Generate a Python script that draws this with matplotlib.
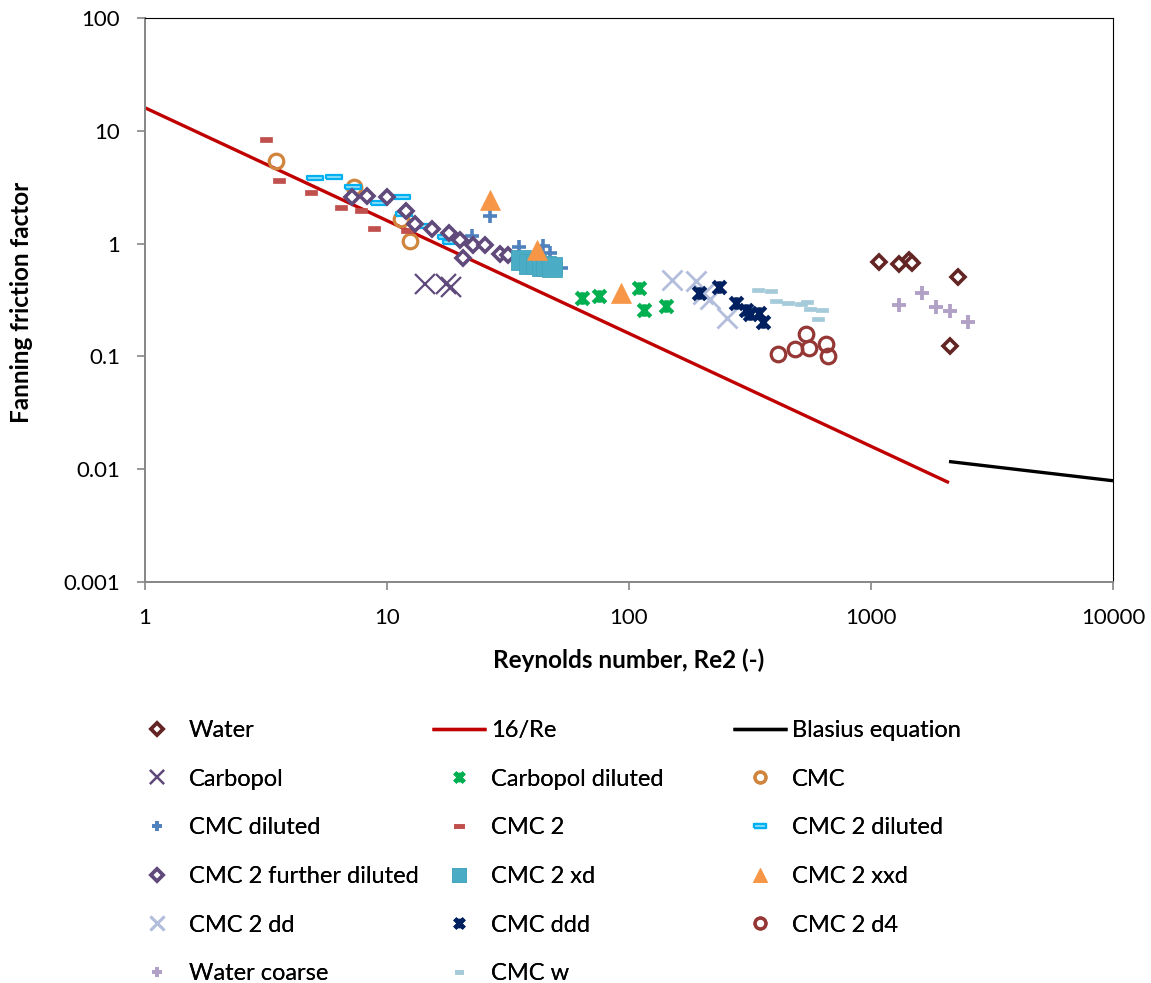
import numpy as np
import matplotlib
matplotlib.use("Agg")
from matplotlib import pyplot as plt
from matplotlib.path import Path

plt.rcParams["font.family"] = ["Lato", "DejaVu Sans"]

# --- data (Re, Fanning f) ---
re_water = [1081, 1307, 1432, 1479, 2287, 2127]
f_water = [0.683, 0.655, 0.716, 0.668, 0.502, 0.124]

re_laminar = [1, 2100]
f_laminar = [16, 0.0076]

re_blasius = [2100, 10000]
f_blasius = [0.0117, 0.0079]

re_carbopol = [14.3, 17.6, 18.3]
f_carbopol = [0.438, 0.438, 0.412]

re_carbopol_dil = [64.1, 75.1, 110.5, 115, 142]
f_carbopol_dil = [0.331, 0.345, 0.402, 0.258, 0.277]

re_cmc = [3.47, 7.34, 11.4, 12.4]
f_cmc = [5.43, 3.19, 1.64, 1.06]

re_cmc_dil = [26.6, 22.4, 35.1, 44.2, 47.0, 52.2]
f_cmc_dil = [1.76, 1.17, 0.937, 0.953, 0.820, 0.604]

re_cmc2 = [3.17, 3.57, 4.83, 6.43, 7.82, 8.87, 12.1]
f_cmc2 = [8.41, 3.66, 2.85, 2.09, 1.99, 1.37, 1.33]

re_cmc2_dil = [5.05, 6.03, 7.27, 9.30, 11.5, 11.8, 14.6, 17.5, 18.4]
f_cmc2_dil = [3.80, 3.92, 3.19, 2.31, 2.57, 1.82, 1.43, 1.15, 1.03]

re_cmc2_fdil = [7.18, 8.28, 9.97, 12.0, 13.1, 15.3, 18.1, 20.1, 22.6, 25.4, 20.7, 29.3, 31.7]
f_cmc2_fdil = [2.57, 2.64, 2.57, 1.96, 1.48, 1.34, 1.25, 1.08, 0.973, 0.973, 0.741, 0.810, 0.793]

re_cmc2_xd = [35.7, 38.6, 41.2, 43.7, 45.3, 48.2]
f_cmc2_xd = [0.716, 0.659, 0.659, 0.632, 0.632, 0.624]

re_cmc2_xxd = [26.6, 41.8, 92.8]
f_cmc2_xxd = [2.44, 0.877, 0.362]

re_cmc2_dd = [150, 190, 203, 217, 254]
f_cmc2_dd = [0.475, 0.466, 0.357, 0.323, 0.217]

re_cmc_ddd = [194, 236, 277, 304, 317, 343, 359]
f_cmc_ddd = [0.362, 0.415, 0.296, 0.258, 0.236, 0.241, 0.200]

re_cmc2_d4 = [414, 486, 555, 537, 649, 666]
f_cmc2_d4 = [0.105, 0.116, 0.118, 0.157, 0.129, 0.101]

re_water_coarse = [1303, 1630, 1862, 2114, 2516]
f_water_coarse = [0.286, 0.367, 0.276, 0.254, 0.203]

re_cmc_w = [340, 385, 404, 453, 512, 542, 560, 625, 606]
f_cmc_w = [0.388, 0.377, 0.310, 0.299, 0.293, 0.301, 0.265, 0.258, 0.213]

x_ticks = [1, 10, 100, 1000, 10000]
x_ticklabels = ["1", "10", "100", "1000", "10000"]
y_ticks = [0.001, 0.01, 0.1, 1, 10, 100]
y_ticklabels = ["0.001", "0.01", "0.1", "1", "10", "100"]

# custom markers
star = Path([(-1, -1), (1, 1), (-1, 1), (1, -1), (0, -1), (0, 1)],
            [Path.MOVETO, Path.LINETO] * 3)
dash = [(-1, -0.4), (1, -0.4), (1, 0.4), (-1, 0.4), (-1, -0.4)]
dash_thin = [(-1, -0.32), (1, -0.32), (1, 0.32), (-1, 0.32), (-1, -0.32)]

fig = plt.figure(figsize=(11.51, 9.83), dpi=100)
ax = fig.add_axes([145 / 1151, 1 - 582 / 983, (1113 - 145) / 1151, (582 - 18) / 983])

h = {}
h["Water"], = ax.plot(re_water, f_water, ls="none", marker="D", ms=7.5, mfc="white",
                      mec="#632523", mew=2.6, zorder=3)
h["16/Re"], = ax.plot(re_laminar, f_laminar, color="#C00000", lw=2.4, zorder=2,
                      solid_capstyle="butt")
h["Blasius equation"], = ax.plot(re_blasius, f_blasius, color="black", lw=2.4, zorder=2,
                                 solid_capstyle="butt")
h["Carbopol"], = ax.plot(re_carbopol, f_carbopol, ls="none", marker="x", ms=14,
                         mec="#604A7B", mew=1.6, zorder=3)
h["Carbopol diluted"], = ax.plot(re_carbopol_dil, f_carbopol_dil, ls="none", marker=star,
                                 ms=9, mec="#00B050", mfc="none", mew=3.2, zorder=3)
h["CMC"], = ax.plot(re_cmc, f_cmc, ls="none", marker="o", ms=10.5, mfc="none",
                    mec="#D0843C", mew=2.3, zorder=3)
h["CMC diluted"], = ax.plot(re_cmc_dil, f_cmc_dil, ls="none", marker="+", ms=9.5,
                            mec="#4F81BD", mew=2.6, zorder=3)
h["CMC 2"], = ax.plot(re_cmc2, f_cmc2, ls="none", marker=dash, ms=9, mfc="#C0504D",
                      mec="#C0504D", mew=0.5, zorder=3)
h["CMC 2 diluted"], = ax.plot(re_cmc2_dil, f_cmc2_dil, ls="none", marker=dash_thin, ms=11,
                              mfc="#8FDDFA", mec="#00B0F0", mew=1.6, zorder=3)
h["CMC 2 further diluted"], = ax.plot(re_cmc2_fdil, f_cmc2_fdil, ls="none", marker="D", ms=7.5,
                                      mfc="white", mec="#604A7B", mew=2.6, zorder=3)
h["CMC 2 xd"], = ax.plot(re_cmc2_xd, f_cmc2_xd, ls="none", marker="s", ms=14, mfc="#4BACC6",
                         mec="#46A3BC", mew=0.6, zorder=3)
h["CMC 2 xxd"], = ax.plot(re_cmc2_xxd, f_cmc2_xxd, ls="none", marker="^", ms=14,
                          mfc="#F79646", mec="#F79646", mew=0.5, zorder=3)
h["CMC 2 dd"], = ax.plot(re_cmc2_dd, f_cmc2_dd, ls="none", marker="x", ms=14,
                         mec="#B3BEDC", mew=2.0, zorder=3)
h["CMC ddd"], = ax.plot(re_cmc_ddd, f_cmc_ddd, ls="none", marker=star, ms=9,
                        mec="#002060", mfc="none", mew=3.2, zorder=3)
h["CMC 2 d4"], = ax.plot(re_cmc2_d4, f_cmc2_d4, ls="none", marker="o", ms=10.5, mfc="none",
                         mec="#953735", mew=2.3, zorder=3)
h["Water coarse"], = ax.plot(re_water_coarse, f_water_coarse, ls="none", marker="+", ms=10,
                             mec="#B2A1C7", mew=2.8, zorder=3)
h["CMC w"], = ax.plot(re_cmc_w, f_cmc_w, ls="none", marker=dash, ms=8.5, mfc="#A5CBDA",
                      mec="#A5CBDA", mew=0.5, zorder=3)

ax.set_xscale("log")
ax.set_yscale("log")
ax.set_xlim(1, 10000)
ax.set_ylim(0.001, 100)
ax.set_xticks(x_ticks)
ax.set_xticklabels(x_ticklabels)
ax.set_yticks(y_ticks)
ax.set_yticklabels(y_ticklabels)
ax.minorticks_off()
ax.tick_params(which="major", direction="out", length=6, width=1.2, color="#868686",
               labelsize=16, labelcolor="black")
ax.tick_params(axis="y", pad=12)
ax.tick_params(axis="x", pad=13)

for side in ["left", "bottom"]:
    ax.spines[side].set_color("#868686")
    ax.spines[side].set_linewidth(1.4)
for side in ["top", "right"]:
    ax.spines[side].set_color("black")
    ax.spines[side].set_linewidth(0.8)

fig.text(629 / 1151, 1 - 660 / 983, "Reynolds number, Re2 (-)", ha="center", va="center",
         fontsize=17.5, fontweight="bold")
fig.text(22 / 1151, 1 - 302 / 983, "Fanning friction factor", ha="center", va="center",
         rotation=90, fontsize=17.5, fontweight="bold")

# legend: three fixed-position columns like Excel
columns = [
    ["Water", "Carbopol", "CMC diluted", "CMC 2 further diluted", "CMC 2 dd", "Water coarse"],
    ["16/Re", "Carbopol diluted", "CMC 2", "CMC 2 xd", "CMC ddd", "CMC w"],
    ["Blasius equation", "CMC", "CMC 2 diluted", "CMC 2 xxd", "CMC 2 d4"],
]
col_x = [130, 432, 733]
for names, x0 in zip(columns, col_x):
    leg = fig.legend([h[n] for n in names], names, loc="upper left",
                     bbox_to_anchor=(x0 / 1151, 1 - 720 / 983), frameon=False,
                     fontsize=17, handlelength=2.29, handletextpad=0.21,
                     labelspacing=1.17, borderpad=0, borderaxespad=0,
                     numpoints=1, markerscale=0.75)
    fig.add_artist(leg)

fig.savefig("out.png", dpi=100)
